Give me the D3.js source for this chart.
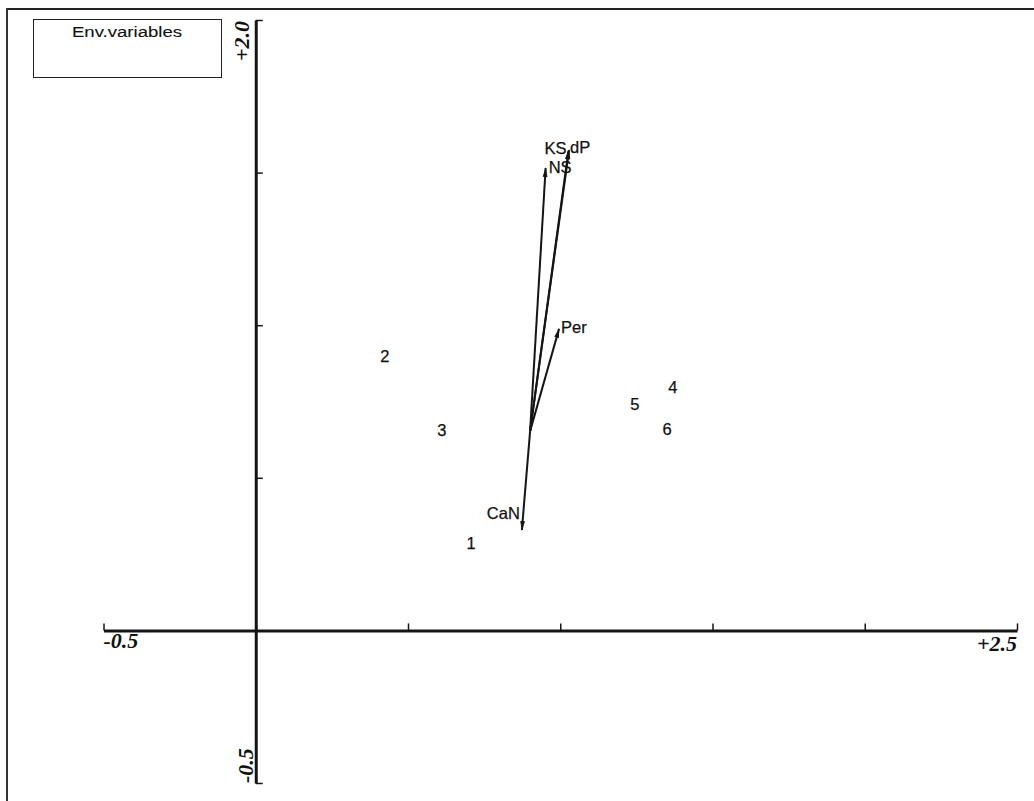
<!DOCTYPE html>
<html>
<head>
<meta charset="utf-8">
<script src="https://cdn.jsdelivr.net/npm/d3@7"></script>
<style>
  html, body { margin: 0; padding: 0; background: #fff; }
  svg { display: block; }
  .serif { font-family: "Liberation Serif", "Times New Roman", serif; font-style: italic; font-weight: bold; font-size: 22px; fill: #111; }
  .sans { font-family: "Liberation Sans", Arial, Helvetica, sans-serif; fill: #111; stroke: #111; stroke-width: 0.25px; }
</style>
</head>
<body>
<svg id="chart" width="1034" height="801"></svg>
<script>
// Sample scores (axis 1, axis 2)
const sampleLabels = ["1", "2", "3", "4", "5", "6"];
const sampleX = [0.707, 0.424, 0.611, 1.370, 1.245, 1.351];
const sampleY = [0.286, 0.898, 0.656, 0.798, 0.742, 0.660];

// Environmental variable arrows: common base and tip coordinates
const arrowBase = [0.901, 0.653];
const envLabels = ["KS", "dP", "NS", "Per", "CaN"];
const envX = [1.027, 1.029, 0.952, 0.996, 0.874];
const envY = [1.572, 1.574, 1.515, 0.988, 0.329];

// Axis extents and tick labels
const xDomain = [-0.5, 2.5];
const yDomain = [-0.5, 2.0];
const xTickLabels = ["-0.5", "+2.5"];
const yTickLabels = ["-0.5", "+2.0"];
const tickStep = 0.5;

const legendTitle = "Env.variables";

const svg = d3.select("#chart");

const x = d3.scaleLinear().domain(xDomain).range([103.5, 1017]);
const y = d3.scaleLinear().domain(yDomain).range([783, 20]);

const ink = "#151515";

// Frame (top and left edges)
svg.append("line").attr("x1", 7).attr("x2", 1034).attr("y1", 9).attr("y2", 9)
  .attr("stroke", "#222").attr("stroke-width", 2.2);
svg.append("line").attr("x1", 7).attr("x2", 7).attr("y1", 8).attr("y2", 801)
  .attr("stroke", "#333").attr("stroke-width", 2);

// Legend box
svg.append("rect").attr("x", 33.5).attr("y", 19.5).attr("width", 188).attr("height", 58)
  .attr("fill", "none").attr("stroke", "#222").attr("stroke-width", 1);
svg.append("text").attr("class", "sans")
  .attr("x", 127).attr("y", 37)
  .attr("text-anchor", "middle")
  .attr("font-size", 14)
  .style("stroke-width", "0.1px")
  .attr("textLength", 110).attr("lengthAdjust", "spacingAndGlyphs")
  .text(legendTitle);

// Horizontal axis through y = 0
const xTicks = d3.range(xDomain[0], xDomain[1] + 1e-9, tickStep);
const xAxis = d3.axisTop(x).tickValues(xTicks).tickSize(7).tickFormat("").tickSizeOuter(0);
const gx = svg.append("g").attr("transform", `translate(0,${y(0)})`).call(xAxis);
gx.select(".domain").attr("stroke", ink).attr("stroke-width", 3);
gx.selectAll(".tick line").attr("stroke", ink).attr("stroke-width", 1.5);

// Vertical axis through x = 0
const yTicks = d3.range(yDomain[0], yDomain[1] + 1e-9, tickStep);
const yAxis = d3.axisRight(y).tickValues(yTicks).tickSize(7).tickFormat("").tickSizeOuter(0);
const gy = svg.append("g").attr("transform", `translate(${x(0)},0)`).call(yAxis);
gy.select(".domain").attr("stroke", ink).attr("stroke-width", 3);
gy.selectAll(".tick line").attr("stroke", ink).attr("stroke-width", 1.5);

// End labels of the axes
svg.append("text").attr("class", "serif")
  .attr("x", x(xDomain[0])).attr("y", y(0) + 18)
  .attr("text-anchor", "start").text(xTickLabels[0]);
svg.append("text").attr("class", "serif")
  .attr("x", x(xDomain[1])).attr("y", y(0) + 21)
  .attr("text-anchor", "end").text(xTickLabels[1]);
svg.append("text").attr("class", "serif")
  .attr("transform", `translate(${x(0) - 3},${y(yDomain[0])}) rotate(-90)`)
  .attr("text-anchor", "start").text(yTickLabels[0]);
svg.append("text").attr("class", "serif")
  .attr("transform", `translate(${x(0) - 7},${y(yDomain[1]) + 41}) rotate(-90)`)
  .attr("text-anchor", "start").text(yTickLabels[1]);

// Arrowhead marker
svg.append("defs").append("marker")
  .attr("id", "head")
  .attr("viewBox", "0 0 10 6")
  .attr("refX", 9).attr("refY", 3)
  .attr("markerWidth", 10).attr("markerHeight", 6)
  .attr("markerUnits", "userSpaceOnUse")
  .attr("orient", "auto")
  .append("path").attr("d", "M0,0.6 L10,3 L0,5.4 Z").attr("fill", ink);

const env = envLabels.map((name, i) => ({ name, x: envX[i], y: envY[i] }));

svg.append("g").selectAll("line").data(env).join("line")
  .attr("x1", x(arrowBase[0])).attr("y1", y(arrowBase[1]))
  .attr("x2", d => x(d.x)).attr("y2", d => y(d.y))
  .attr("stroke", ink).attr("stroke-width", 2)
  .attr("marker-end", "url(#head)");

// Label placement next to each arrow tip
const place = {
  KS:  { anchor: "end",   dx: -2, dy: 3 },
  dP:  { anchor: "start", dx: 1,  dy: 3 },
  NS:  { anchor: "start", dx: 3,  dy: 5 },
  Per: { anchor: "start", dx: 2,  dy: 4 },
  CaN: { anchor: "end",   dx: -2, dy: -11 }
};

svg.append("g").selectAll("text").data(env).join("text")
  .attr("class", "sans")
  .attr("font-size", 16.5)
  .attr("x", d => x(d.x) + place[d.name].dx)
  .attr("y", d => y(d.y) + place[d.name].dy)
  .attr("text-anchor", d => place[d.name].anchor)
  .text(d => d.name);

// Sample labels
const samples = sampleLabels.map((label, i) => ({ label, x: sampleX[i], y: sampleY[i] }));
svg.append("g").selectAll("text").data(samples).join("text")
  .attr("class", "sans")
  .attr("font-size", 16.5)
  .attr("x", d => x(d.x)).attr("y", d => y(d.y))
  .attr("text-anchor", "middle")
  .attr("dominant-baseline", "central")
  .text(d => d.label);
</script>
</body>
</html>
